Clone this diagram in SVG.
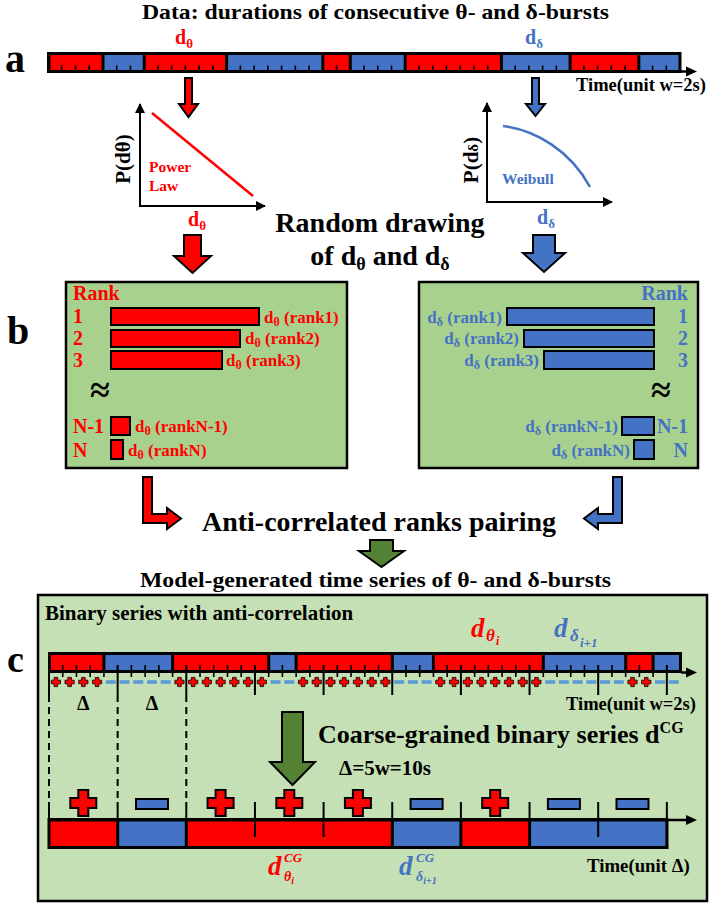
<svg xmlns="http://www.w3.org/2000/svg" width="714" height="907" viewBox="0 0 714 907">
<defs>
<style>
.s{font-family:"Liberation Serif","Times New Roman",serif;font-weight:bold}
.r{fill:#ff0000}.b{fill:#4472c4}.k{fill:#000}
.mi{font-style:italic}
.rb{fill:#ff0000;stroke:#000;stroke-width:2}
.bb{fill:#4472c4;stroke:#000;stroke-width:2}
.gb{fill:#548235;stroke:#000;stroke-width:2}
.ax{stroke:#000;stroke-width:2;fill:none}
.sr{fill:#ff0000}.sb{fill:#4472c4}
.tk{stroke:#000;stroke-width:1.6;fill:none}
.tl{stroke:#000;stroke-width:2;fill:none}
.box{fill:#a9d18e;stroke:#000;stroke-width:2.5}
</style>
<marker id="ah" viewBox="0 0 10 10" refX="9" refY="5" markerWidth="5" markerHeight="5" orient="auto"><path d="M0,0L10,5L0,10z" fill="#000"/></marker>
<path id="sp" d="M-1.8,-4.6h3.6v2.8h2.8v3.6h-2.8v2.8h-3.6v-2.8h-2.8v-3.6h2.8z" fill="#ff0000" stroke="#000" stroke-width="0.8"/>
<rect id="sm" x="-5" y="-1.8" width="10" height="3.6" fill="#5b9bd5"/>
<path id="bp" d="M-5,-13h10v8h8v10h-8v8h-10v-8h-8v-10h8z" fill="#ff0000" stroke="#000" stroke-width="2"/>
<rect id="bm" x="-16" y="-5" width="32" height="10" fill="#4472c4" stroke="#000" stroke-width="2"/>
</defs>
<rect width="714" height="907" fill="#fff"/>

<g id="panel-a">
<text class="s k" x="142" y="19" font-size="21" textLength="467" lengthAdjust="spacingAndGlyphs">Data: durations of consecutive θ- and δ-bursts</text>
<text class="s k" x="5" y="72" font-size="40">a</text>
<text class="s r" x="175" y="44" font-size="20">d<tspan font-size="13" dy="4">θ</tspan></text>
<text class="s b" x="525" y="44" font-size="20">d<tspan font-size="13" dy="4">δ</tspan></text>
<rect x="47" y="52" width="634.5" height="21" fill="#000"/>
<rect class="sr" x="50.5" y="55" width="51" height="15"/>
<rect class="sb" x="104.5" y="55" width="38.2" height="15"/>
<rect class="sr" x="145.7" y="55" width="79.4" height="15"/>
<rect class="sb" x="228.1" y="55" width="93.2" height="15"/>
<rect class="sr" x="324.3" y="55" width="24.5" height="15"/>
<rect class="sb" x="351.8" y="55" width="51.9" height="15"/>
<rect class="sr" x="406.7" y="55" width="93.2" height="15"/>
<rect class="sb" x="502.9" y="55" width="65.7" height="15"/>
<rect class="sr" x="571.6" y="55" width="65.7" height="15"/>
<rect class="sb" x="640.3" y="55" width="38.2" height="15"/>
<path class="tk" d="M61.74,65.5v4.5M75.48,65.5v4.5M89.22,65.5v4.5M116.7,65.5v4.5M130.44,65.5v4.5M157.92,65.5v4.5M171.66,65.5v4.5M185.4,65.5v4.5M199.14,65.5v4.5M212.88,65.5v4.5M240.36,65.5v4.5M254.1,65.5v4.5M267.84,65.5v4.5M281.58,65.5v4.5M295.32,65.5v4.5M309.06,65.5v4.5M336.54,65.5v4.5M364.02,65.5v4.5M377.76,65.5v4.5M391.5,65.5v4.5M418.98,65.5v4.5M432.72,65.5v4.5M446.46,65.5v4.5M460.2,65.5v4.5M473.94,65.5v4.5M487.68,65.5v4.5M515.16,65.5v4.5M528.9,65.5v4.5M542.64,65.5v4.5M556.38,65.5v4.5M583.86,65.5v4.5M597.6,65.5v4.5M611.34,65.5v4.5M625.08,65.5v4.5M652.56,65.5v4.5M666.3,65.5v4.5"/>
<path d="M680,71.5H688" stroke="#000" stroke-width="2.5"/>
<path d="M686,66.5L697,71.5L686,76.5z" fill="#000"/>
<text class="s k" x="576" y="91" font-size="18.5">Time(unit w=2s)</text>
</g>

<g id="plot-powerlaw">
<path class="ax" d="M140,206V104" marker-end="url(#ah)"/>
<path class="ax" d="M139,206H265" marker-end="url(#ah)"/>
<path d="M152,113L253,196" stroke="#ff0000" stroke-width="2.5" fill="none"/>
<text class="s r" x="149" y="172" font-size="15.5">Power</text>
<text class="s r" x="149" y="191" font-size="15.5">Law</text>
<text class="s k" transform="translate(130,159) rotate(-90)" text-anchor="middle" font-size="21">P(dθ)</text>
<text class="s r" x="188" y="226" font-size="20">d<tspan font-size="13" dy="4">θ</tspan></text>
</g>

<g id="plot-weibull">
<path class="ax" d="M487,202V103" marker-end="url(#ah)"/>
<path class="ax" d="M486,202H612" marker-end="url(#ah)"/>
<path d="M503,126C535,130 570,150 590,187" stroke="#4472c4" stroke-width="2.5" fill="none"/>
<text class="s b" x="502" y="184" font-size="15.5">Weibull</text>
<text class="s k" transform="translate(478,160) rotate(-90)" text-anchor="middle" font-size="21">P(d<tspan font-size="15">δ</tspan>)</text>
<text class="s b" x="537" y="224" font-size="20">d<tspan font-size="13" dy="4">δ</tspan></text>
</g>

<g id="random-drawing">
<text class="s k" x="380" y="232" font-size="28" text-anchor="middle">Random drawing</text>
<text class="s k" x="380" y="265" font-size="28" text-anchor="middle">of d<tspan font-size="18" dy="5">θ</tspan><tspan dy="-5">  and d</tspan><tspan font-size="18" dy="5">δ</tspan></text>
</g>

<text class="s k" x="7" y="344" font-size="40">b</text>

<g id="rank-theta">
<rect class="box" x="66" y="282" width="281" height="186"/>
<text class="s r" x="73" y="300" font-size="20">Rank</text>
<text class="s r" x="73" y="323" font-size="20">1</text>
<text class="s r" x="73" y="345" font-size="20">2</text>
<text class="s r" x="73" y="367" font-size="20">3</text>
<text class="s k" x="100" y="402" font-size="36" text-anchor="middle">≈</text>
<text class="s r" x="73" y="433" font-size="20">N-1</text>
<text class="s r" x="73" y="457" font-size="20">N</text>
<rect class="rb" x="111" y="308" width="148" height="17"/>
<rect class="rb" x="111" y="330" width="129" height="17"/>
<rect class="rb" x="111" y="351" width="111" height="18"/>
<rect class="rb" x="111" y="417" width="19" height="18"/>
<rect class="rb" x="111" y="440" width="12" height="19"/>
<text class="s r" x="264" y="323" font-size="17">d<tspan font-size="12" dy="3">θ</tspan><tspan dy="-3"> (rank1)</tspan></text>
<text class="s r" x="245" y="344" font-size="17">d<tspan font-size="12" dy="3">θ</tspan><tspan dy="-3"> (rank2)</tspan></text>
<text class="s r" x="226" y="366" font-size="17">d<tspan font-size="12" dy="3">θ</tspan><tspan dy="-3"> (rank3)</tspan></text>
<text class="s r" x="135" y="432" font-size="17">d<tspan font-size="12" dy="3">θ</tspan><tspan dy="-3"> (rankN-1)</tspan></text>
<text class="s r" x="128" y="456" font-size="17">d<tspan font-size="12" dy="3">θ</tspan><tspan dy="-3"> (rankN)</tspan></text>
</g>

<g id="rank-delta">
<rect class="box" x="419" y="282" width="279" height="186"/>
<text class="s b" x="688" y="300" font-size="20" text-anchor="end">Rank</text>
<text class="s b" x="688" y="323" font-size="20" text-anchor="end">1</text>
<text class="s b" x="688" y="345" font-size="20" text-anchor="end">2</text>
<text class="s b" x="688" y="367" font-size="20" text-anchor="end">3</text>
<text class="s k" x="661" y="402" font-size="36" text-anchor="middle">≈</text>
<text class="s b" x="688" y="433" font-size="20" text-anchor="end">N-1</text>
<text class="s b" x="688" y="457" font-size="20" text-anchor="end">N</text>
<rect class="bb" x="507" y="308" width="147" height="17"/>
<rect class="bb" x="524" y="330" width="130" height="17"/>
<rect class="bb" x="544" y="351" width="110" height="18"/>
<rect class="bb" x="622" y="417" width="32" height="18"/>
<rect class="bb" x="634" y="440" width="20" height="19"/>
<text class="s b" x="502" y="323" font-size="17" text-anchor="end">d<tspan font-size="12" dy="3">δ</tspan><tspan dy="-3"> (rank1)</tspan></text>
<text class="s b" x="519" y="344" font-size="17" text-anchor="end">d<tspan font-size="12" dy="3">δ</tspan><tspan dy="-3"> (rank2)</tspan></text>
<text class="s b" x="539" y="366" font-size="17" text-anchor="end">d<tspan font-size="12" dy="3">δ</tspan><tspan dy="-3"> (rank3)</tspan></text>
<text class="s b" x="618" y="432" font-size="17" text-anchor="end">d<tspan font-size="12" dy="3">δ</tspan><tspan dy="-3"> (rankN-1)</tspan></text>
<text class="s b" x="630" y="456" font-size="17" text-anchor="end">d<tspan font-size="12" dy="3">δ</tspan><tspan dy="-3"> (rankN)</tspan></text>
</g>

<g id="pairing">
<text class="s k" x="379" y="531" font-size="28" text-anchor="middle">Anti-correlated ranks pairing</text>
</g>

<text class="s k" x="140" y="587" font-size="22" textLength="471" lengthAdjust="spacingAndGlyphs">Model-generated time series of θ- and δ-bursts</text>

<g id="panel-c">
<rect x="38" y="595" width="669" height="306" fill="#c5e0b4" stroke="#000" stroke-width="2.5"/>
<text class="s k" x="45" y="620" font-size="21">Binary series with anti-correlation</text>
<text class="s k" x="7" y="672" font-size="38">c</text>
<text class="s r mi" font-size="27"><tspan x="471" y="637">d</tspan><tspan x="486" y="641" font-size="17">θ</tspan><tspan x="496" y="645" font-size="12">i</tspan></text>
<text class="s b mi" font-size="27"><tspan x="554" y="637">d</tspan><tspan x="570" y="641" font-size="17">δ</tspan><tspan x="580" y="647" font-size="13">i+1</tspan></text>

<rect x="48" y="652" width="634" height="21" fill="#000"/>
<rect class="sr" x="51" y="655" width="51.4" height="15"/>
<rect class="sb" x="105.4" y="655" width="65.7" height="15"/>
<rect class="sr" x="174.1" y="655" width="93.1" height="15"/>
<rect class="sb" x="270.2" y="655" width="24.4" height="15"/>
<rect class="sr" x="297.6" y="655" width="93.2" height="15"/>
<rect class="sb" x="393.8" y="655" width="38.1" height="15"/>
<rect class="sr" x="434.9" y="655" width="106.9" height="15"/>
<rect class="sb" x="544.8" y="655" width="79.4" height="15"/>
<rect class="sr" x="627.2" y="655" width="24.4" height="15"/>
<rect class="sb" x="654.6" y="655" width="24.4" height="15"/>
<path d="M681,672.5H689" stroke="#000" stroke-width="2.5"/>
<path d="M686,667.5L697,672.5L686,677.5z" fill="#000"/>
<path class="tk" d="M62.73,665v12M76.46,665v12M90.19,665v12M103.92,665v12M131.38,665v12M145.11,665v12M158.84,665v12M172.57,665v12M200.03,665v12M213.76,665v12M227.49,665v12M241.22,665v12M268.68,665v12M282.41,665v12M296.14,665v12M309.87,665v12M337.33,665v12M351.06,665v12M364.79,665v12M378.52,665v12M405.98,665v12M419.71,665v12M433.44,665v12M447.17,665v12M474.63,665v12M488.36,665v12M502.09,665v12M515.82,665v12M543.28,665v12M557.01,665v12M570.74,665v12M584.47,665v12M611.93,665v12M625.66,665v12M639.39,665v12M653.12,665v12"/>
<path class="tl" d="M49,665v30M117.65,665v30M186.3,665v30M254.95,665v30M323.6,665v30M392.25,665v30M460.9,665v30M529.55,665v30M598.2,665v30M666.85,665v30"/>
<g id="fine-signs">
<use href="#sp" x="55.87" y="682"/><use href="#sp" x="69.6" y="682"/><use href="#sp" x="83.33" y="682"/><use href="#sp" x="97.06" y="682"/>
<use href="#sm" x="110.79" y="682"/><use href="#sm" x="124.52" y="682"/><use href="#sm" x="138.25" y="682"/><use href="#sm" x="151.98" y="682"/><use href="#sm" x="165.71" y="682"/>
<use href="#sp" x="179.44" y="682"/><use href="#sp" x="193.17" y="682"/><use href="#sp" x="206.9" y="682"/><use href="#sp" x="220.63" y="682"/><use href="#sp" x="234.36" y="682"/><use href="#sp" x="248.09" y="682"/><use href="#sp" x="261.82" y="682"/>
<use href="#sm" x="275.55" y="682"/><use href="#sm" x="289.28" y="682"/>
<use href="#sp" x="303.01" y="682"/><use href="#sp" x="316.74" y="682"/><use href="#sp" x="330.47" y="682"/><use href="#sp" x="344.2" y="682"/><use href="#sp" x="357.93" y="682"/><use href="#sp" x="371.66" y="682"/><use href="#sp" x="385.39" y="682"/>
<use href="#sm" x="399.12" y="682"/><use href="#sm" x="412.85" y="682"/><use href="#sm" x="426.58" y="682"/>
<use href="#sp" x="440.31" y="682"/><use href="#sp" x="454.04" y="682"/><use href="#sp" x="467.77" y="682"/><use href="#sp" x="481.5" y="682"/><use href="#sp" x="495.23" y="682"/><use href="#sp" x="508.96" y="682"/><use href="#sp" x="522.69" y="682"/><use href="#sp" x="536.42" y="682"/>
<use href="#sm" x="550.15" y="682"/><use href="#sm" x="563.88" y="682"/><use href="#sm" x="577.61" y="682"/><use href="#sm" x="591.34" y="682"/><use href="#sm" x="605.07" y="682"/><use href="#sm" x="618.8" y="682"/>
<use href="#sp" x="632.53" y="682"/><use href="#sp" x="646.26" y="682"/>
<use href="#sm" x="659.99" y="682"/><use href="#sm" x="673.72" y="682"/>
</g>
<text class="s k" x="566" y="710" font-size="18.5">Time(unit w=2s)</text>
<text class="s k" x="83.3" y="710" font-size="20" text-anchor="middle">Δ</text>
<text class="s k" x="152" y="710" font-size="20" text-anchor="middle">Δ</text>
<path d="M49,695V802M117.65,695V802M186.3,695V802" stroke="#000" stroke-width="2" stroke-dasharray="7 5" fill="none"/>
<text class="s k" x="318" y="743" font-size="26">Coarse-grained binary series d<tspan font-size="16" dy="-10">CG</tspan></text>
<text class="s k" x="339" y="775" font-size="21">Δ=5w=10s</text>

<rect x="47.5" y="818" width="621" height="31" fill="#000"/>
<rect class="sr" x="50.5" y="821.5" width="65.7" height="24.5"/>
<rect class="sb" x="119.2" y="821.5" width="65.6" height="24.5"/>
<rect class="sr" x="187.8" y="821.5" width="203" height="24.5"/>
<rect class="sb" x="393.8" y="821.5" width="65.6" height="24.5"/>
<rect class="sr" x="462.4" y="821.5" width="65.7" height="24.5"/>
<rect class="sb" x="531.1" y="821.5" width="134.3" height="24.5"/>
<path class="tl" d="M49,802v16M117.65,802v16M186.3,802v16M392.25,802v16M460.9,802v16M529.55,802v16M666.85,802v16M254.95,802v35M323.6,802v35M598.2,802v35"/>
<path d="M667,820H689" stroke="#000" stroke-width="2.5"/>
<path d="M686,815L697,820L686,825z" fill="#000"/>
<g id="coarse-signs">
<use href="#bp" x="83.3" y="803"/><use href="#bm" x="152" y="804"/><use href="#bp" x="220.6" y="803"/><use href="#bp" x="289.3" y="803"/><use href="#bp" x="357.9" y="803"/><use href="#bm" x="426.6" y="804"/><use href="#bp" x="495.2" y="803"/><use href="#bm" x="563.9" y="804"/><use href="#bm" x="632.5" y="804"/>
</g>
<text class="s r mi" font-size="27" x="268" y="875">d</text>
<text class="s r mi" font-size="13" x="284" y="862">CG</text>
<text class="s r mi" font-size="14" x="284" y="881">θ<tspan font-size="10" dy="3">i</tspan></text>
<text class="s b mi" font-size="27" x="399" y="875">d</text>
<text class="s b mi" font-size="13" x="416" y="862">CG</text>
<text class="s b mi" font-size="14" x="416" y="881">δ<tspan font-size="10" dy="3">i+1</tspan></text>
<text class="s k" x="587" y="872" font-size="18.8">Time(unit Δ)</text>
</g>

<g id="connectors">
<polygon class="rb" stroke-width="1.5" points="185,78 192,78 192,104 198,104 188.5,117 179,104 185,104"/>
<polygon class="bb" stroke-width="1.5" points="532,78 539,78 539,104 545,104 535.5,116 526,104 532,104"/>
<polygon class="rb" points="184,235 201,235 201,256 211,256 192.5,273 174,256 184,256"/>
<polygon class="bb" points="533,235 555,235 555,253 565,253 544,272 523,253 533,253"/>
<polygon class="rb" points="143,477 152,477 152,514 167,514 167,508 181,518.5 167,529 167,523 143,523"/>
<polygon class="bb" points="622,477 613,477 613,514 598,514 598,508 584,518.5 598,529 598,523 622,523"/>
<polygon class="gb" points="370,540 393,540 393,551 404,551 381.5,567 359,551 370,551"/>
<polygon class="gb" points="282,712 303,712 303,762 315,762 292.5,785 270,762 282,762"/>
</g>
</svg>
